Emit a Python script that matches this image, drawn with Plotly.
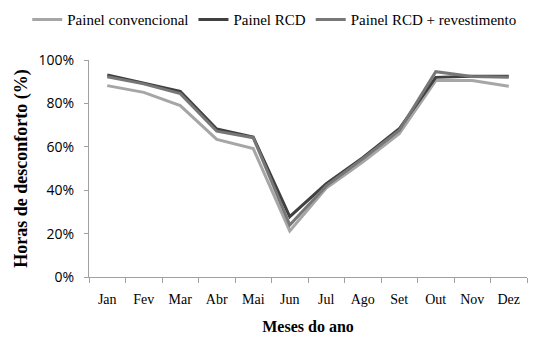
import plotly.graph_objects as go

months = ["Jan", "Fev", "Mar", "Abr", "Mai", "Jun", "Jul", "Ago", "Set", "Out", "Nov", "Dez"]
convencional = [0.882, 0.851, 0.790, 0.634, 0.592, 0.212, 0.410, 0.530, 0.660, 0.905, 0.905, 0.879]
rcd = [0.931, 0.893, 0.855, 0.682, 0.645, 0.278, 0.430, 0.550, 0.683, 0.920, 0.925, 0.925]
rcd_revest = [0.923, 0.890, 0.845, 0.672, 0.642, 0.240, 0.420, 0.545, 0.675, 0.946, 0.924, 0.920]

series = [
    ("Painel convencional", convencional, "#a6a6a6"),
    ("Painel RCD", rcd, "#404040"),
    ("Painel RCD + revestimento", rcd_revest, "#777777"),
]

SERIF = "Liberation Serif"

fig = go.Figure()
for name, vals, color in series:
    fig.add_trace(go.Scatter(
        x=months, y=vals, mode="lines", name=name,
        line=dict(color=color, width=3)))

fig.update_layout(
    width=542, height=340,
    margin=dict(l=89, r=15, t=60, b=63, autoexpand=False),
    plot_bgcolor="white", paper_bgcolor="white",
    font=dict(family=SERIF, size=14, color="#000000"),
    showlegend=True,
    legend=dict(
        orientation="h", xref="paper", yref="paper",
        x=-0.141, xanchor="left", y=1.262, yanchor="top",
        font=dict(family=SERIF, size=15, color="#000"),
        itemwidth=30, tracegroupgap=0, bgcolor="rgba(0,0,0,0)",
    ),
)

fig.update_xaxes(
    type="category", tickson="boundaries", ticks="outside", ticklen=5,
    range=[-0.5, 11.5], automargin=False, ticklabelstandoff=9,
    tickcolor="#a0a0a0", showline=True, linecolor="#a0a0a0", linewidth=1,
    showgrid=False,
    tickfont=dict(family=SERIF, size=14, color="#000"),
    title=dict(text="<b>Meses do ano</b>", font=dict(family=SERIF, size=16), standoff=15),
)
fig.update_yaxes(
    range=[0, 1], tickvals=[0, 0.2, 0.4, 0.6, 0.8, 1.0], tickformat=".0%",
    ticks="outside", ticklen=4, tickcolor="#a0a0a0", automargin=False,
    ticklabelstandoff=7,
    showline=True, linecolor="#a0a0a0", linewidth=1, showgrid=False, zeroline=False,
    tickfont=dict(family="Open Sans", size=14, color="#000"),
    title=dict(text="<b>Horas de desconforto (%)</b>", font=dict(family=SERIF, size=18), standoff=6),
)

fig.write_html("out.html", config={"displayModeBar": False},
               post_script="document.body.style.margin='0';")
